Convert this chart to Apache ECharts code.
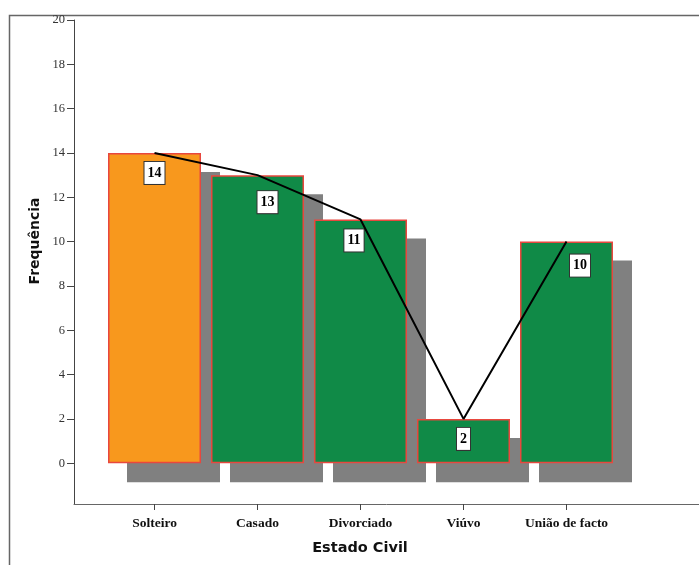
<!DOCTYPE html>
<html>
<head>
<meta charset="utf-8">
<script src="https://cdn.jsdelivr.net/npm/echarts@6/dist/echarts.min.js"></script>
<style>html,body{margin:0;padding:0;background:#fff}#c{width:699px;height:565px}</style>
</head>
<body>
<div id="c"></div>
<script>
const categories = ['Solteiro', 'Casado', 'Divorciado', 'Viúvo', 'União de facto'];
const frequencies = [14, 13, 11, 2, 10];
const yTicks = [0, 2, 4, 6, 8, 10, 12, 14, 16, 18, 20];
const barColors = ['#F8981D', '#108A47', '#108A47', '#108A47', '#108A47'];
const labelOffsets = [[0, 0], [10, 7], [-6.5, 1], [0, 0], [13.5, 4]];

const chart = echarts.init(document.getElementById('c'));
const serif = '"Liberation Serif", "Times New Roman", serif';
const sans = '"DejaVu Sans", Verdana, sans-serif';
const BAR_W = 93;
const SHADOW = 19;

const barData = frequencies.map((v, i) => ({
  value: [i, v],
  itemStyle: { color: barColors[i] },
  label: { offset: labelOffsets[i] }
}));

chart.setOption({
  animation: false,
  grid: { left: 74, right: 0, top: 20, bottom: 61, containLabel: false },
  xAxis: {
    type: 'value',
    min: -0.7816,
    max: 5.2864,
    splitLine: { show: false },
    axisLine: { show: true, onZero: false, lineStyle: { color: '#666', width: 1 } },
    axisTick: { show: true, customValues: [0, 1, 2, 3, 4], length: 6, lineStyle: { color: '#444' } },
    axisLabel: {
      customValues: [0, 1, 2, 3, 4],
      formatter: v => categories[Math.round(v)],
      fontFamily: serif, fontWeight: 'bold', fontSize: 13.5, color: '#111', margin: 13
    }
  },
  yAxis: {
    type: 'value',
    min: -1.84,
    max: 20,
    splitLine: { show: false },
    axisLine: { show: true, onZero: false, lineStyle: { color: '#444', width: 1 } },
    axisTick: { show: true, customValues: yTicks, length: 7, lineStyle: { color: '#444' } },
    axisLabel: {
      customValues: yTicks,
      fontFamily: serif, fontSize: 12.5, color: '#333', margin: 9
    }
  },
  graphic: [
    { type: 'rect', z: -10, shape: { x: 9.5, y: 15.5, width: 720, height: 600 },
      style: { fill: 'none', stroke: '#666', lineWidth: 1.5 } },
    { type: 'text', x: 35, y: 241, rotation: Math.PI / 2,
      style: { text: 'Frequência', font: 'bold 14px ' + sans, fill: '#111', align: 'center', verticalAlign: 'middle' } },
    { type: 'text', x: 360, y: 548,
      style: { text: 'Estado Civil', font: 'bold 14.5px ' + sans, fill: '#111', align: 'center', verticalAlign: 'middle' } }
  ],
  series: [
    {
      type: 'custom',
      name: 'sombra',
      data: frequencies.map((v, i) => [i, v]),
      renderItem: (params, api) => {
        const base = api.coord([api.value(0), 0]);
        const top = api.coord([api.value(0), api.value(1)]);
        return {
          type: 'rect',
          shape: { x: base[0] - BAR_W / 2 + SHADOW, y: top[1] + SHADOW, width: BAR_W, height: base[1] - top[1] },
          style: { fill: '#808080' }
        };
      },
      silent: true,
      z: 1
    },
    {
      type: 'bar',
      data: barData,
      barWidth: BAR_W,
      itemStyle: { borderColor: '#E8473E', borderWidth: 1.5 },
      emphasis: { disabled: true },
      label: {
        show: true, position: 'insideTop', distance: 9,
        fontFamily: serif, fontWeight: 'bold', fontSize: 14, color: '#000',
        backgroundColor: '#fff', borderColor: '#333', borderWidth: 1,
        padding: [4, 3, 4, 3], lineHeight: 14
      },
      z: 2
    },
    {
      type: 'line',
      data: frequencies.map((v, i) => [i, v]),
      showSymbol: false,
      symbol: 'none',
      lineStyle: { color: '#000', width: 2 },
      emphasis: { disabled: true },
      z: 3
    }
  ]
});
</script>
</body>
</html>
